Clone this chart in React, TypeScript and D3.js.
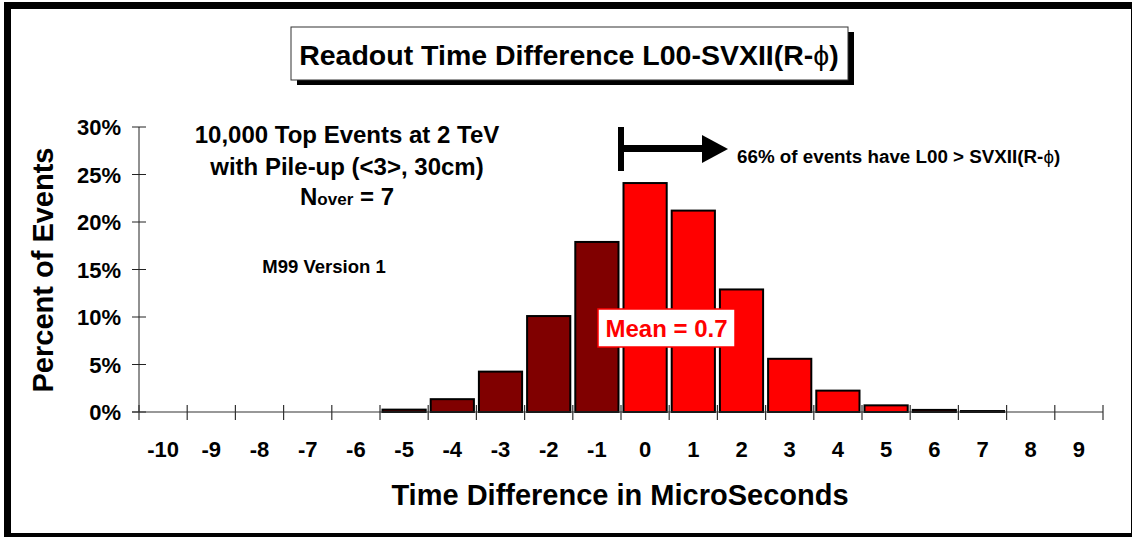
import * as d3 from "d3";

// bins are centred on whole microseconds, -10 .. 9
const bins = [-10, -9, -8, -7, -6, -5, -4, -3, -2, -1, 0, 1, 2, 3, 4, 5, 6, 7, 8, 9];
const percent = [0, 0, 0, 0, 0, 0.25, 1.35, 4.25, 10.1, 17.9, 24.1, 21.2, 12.9, 5.6, 2.25, 0.7, 0.22, 0.1, 0, 0];
const yTicks = [0, 5, 10, 15, 20, 25, 30];

const FONT = "Arial, 'Liberation Sans', Helvetica, sans-serif";
const W = 1132;
const H = 537;

export default function App() {
  const x = d3.scaleLinear().domain([-10.5, 9.5]).range([139, 1103]);
  const y = d3.scaleLinear().domain([0, 30]).range([412, 127]);
  const binEdges = d3.range(-10.5, 10, 1);

  return (
    <svg
      width={W}
      height={H}
      style={{ position: "absolute", left: 0, top: 0, background: "#fff" }}
      fontFamily={FONT}
      fontWeight="bold"
    >
      {/* outer frame */}
      <rect x={7.5} y={5.5} width={1127} height={531} fill="#fff" stroke="#000" strokeWidth={7} />

      {/* title box with drop shadow */}
      <rect x={297} y={32} width={557} height={53} fill="#000" />
      <rect x={291} y={27} width={557} height={53} fill="#fff" stroke="#333" strokeWidth={1} />
      <text x={569} y={65} fontSize={28.5} textAnchor="middle">
        Readout Time Difference L00-SVXII(R-<tspan fontWeight="normal">ϕ</tspan>)
      </text>

      {/* bars */}
      {bins.map((b, i) =>
        percent[i] > 0 ? (
          <rect
            key={b}
            x={x(b - 0.5) + 2.5}
            y={y(percent[i])}
            width={x(b + 0.5) - x(b - 0.5) - 5}
            height={y(0) - y(percent[i])}
            fill={b < 0 ? "#800000" : "#ff0000"}
            stroke="#000"
            strokeWidth={2}
          />
        ) : null
      )}

      {/* y axis */}
      <line x1={139} x2={139} y1={y(30)} y2={y(0)} stroke="#222" strokeWidth={1} />
      {yTicks.map((t) => (
        <g key={t}>
          <line x1={132} x2={146} y1={y(t)} y2={y(t)} stroke="#222" strokeWidth={1} />
          <text x={121} y={y(t) + 8} fontSize={22} textAnchor="end">
            {t}%
          </text>
        </g>
      ))}

      {/* x axis */}
      <line x1={132} x2={x(9.5)} y1={y(0)} y2={y(0)} stroke="#333" strokeWidth={1.2} />
      {binEdges.map((e) => (
        <line key={e} x1={x(e)} x2={x(e)} y1={405} y2={420} stroke="#333" strokeWidth={1.2} />
      ))}
      {bins.map((b) => (
        <text key={b} x={x(b)} y={457} fontSize={22} textAnchor="middle">
          {b}
        </text>
      ))}

      {/* axis titles */}
      <text x={620} y={505} fontSize={29} textAnchor="middle">
        Time Difference in MicroSeconds
      </text>
      <text transform="translate(53,270) rotate(-90)" fontSize={29} textAnchor="middle">
        Percent of Events
      </text>

      {/* sample notes */}
      <text x={347} y={143} fontSize={24} textAnchor="middle">
        10,000 Top Events at 2 TeV
      </text>
      <text x={347} y={175} fontSize={24} textAnchor="middle">
        with Pile-up (&lt;3&gt;, 30cm)
      </text>
      <text x={347} y={205} fontSize={24} textAnchor="middle">
        N<tspan fontSize={17}>over</tspan> = 7
      </text>
      <text x={324} y={273} fontSize={18.5} textAnchor="middle">
        M99 Version 1
      </text>

      {/* arrow: events with L00 later than SVXII */}
      <line x1={x(-0.5)} x2={x(-0.5)} y1={127} y2={171} stroke="#000" strokeWidth={6} />
      <line x1={x(-0.5)} x2={703} y1={148.5} y2={148.5} stroke="#000" strokeWidth={7} />
      <path d="M702,135 L728,149 L702,163 Z" fill="#000" />
      <text x={737} y={163} fontSize={18.8}>
        66% of events have L00 &gt; SVXII(R-<tspan fontWeight="normal">ϕ</tspan>)
      </text>

      {/* mean label */}
      <rect x={598} y={309} width={137} height={38} fill="#fff" stroke="#ff0000" strokeWidth={1.5} />
      <text x={666.5} y={337} fontSize={24} textAnchor="middle" fill="#ff0000">
        Mean = 0.7
      </text>
    </svg>
  );
}
